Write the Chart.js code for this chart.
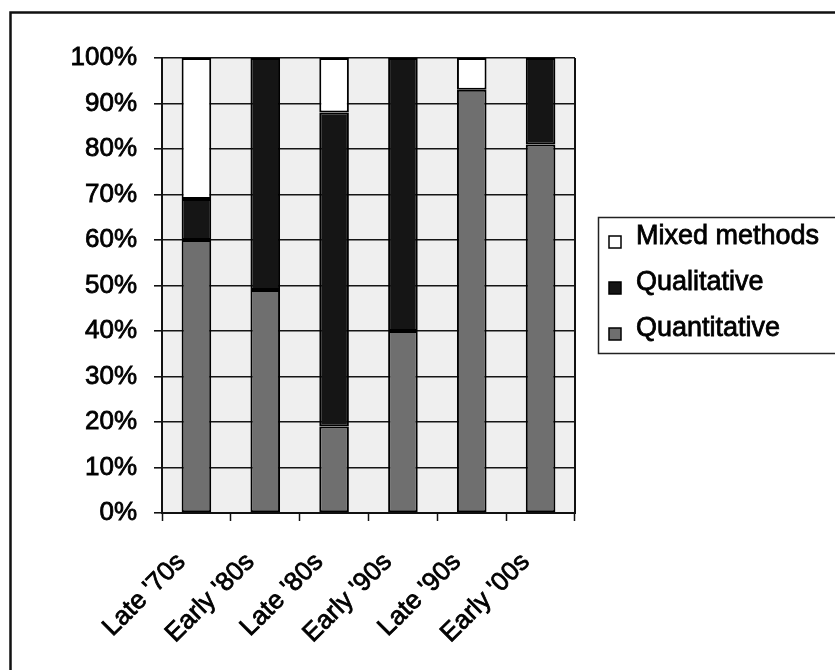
<!DOCTYPE html>
<html>
<head>
<meta charset="utf-8">
<style>
  html, body { margin: 0; padding: 0; background: #ffffff; }
  #wrap { width: 835px; height: 670px; }
</style>
<script src="https://cdn.jsdelivr.net/npm/chart.js@4/dist/chart.umd.min.js"></script>
</head>
<body>
<div id="wrap"><canvas id="c" width="835" height="670"></canvas></div>
<script>
// Share of studies by research approach, per period
const categories = ["Late '70s", "Early '80s", "Late '80s", "Early '90s", "Late '90s", "Early '00s"];
const quantitative = [60, 49, 19, 40, 93, 81];
const qualitative  = [9, 51, 69, 60, 0, 19];
const mixedMethods = [31, 0, 12, 0, 7, 0];
const yTickValues  = [0, 10, 20, 30, 40, 50, 60, 70, 80, 90, 100];

const FONT = "'Liberation Sans', Arial, sans-serif";
const COL_QUANT = '#6f6f6f';
const COL_QUAL = '#151515';
const COL_MIXED = '#ffffff';

// Plot background, plot frame, slanted category labels, page border and the boxed legend
const decorations = {
  id: 'decorations',
  beforeDraw(chart) {
    const { ctx, chartArea: a } = chart;
    ctx.save();
    ctx.fillStyle = '#efefef';
    ctx.fillRect(a.left, a.top, a.right - a.left, a.bottom - a.top);
    ctx.restore();
  },
  afterDraw(chart) {
    const { ctx, chartArea: a } = chart;
    ctx.save();
    // right edge of the plot
    ctx.strokeStyle = '#111';
    ctx.lineWidth = 2;
    ctx.beginPath();
    ctx.moveTo(a.right, a.top);
    ctx.lineTo(a.right, a.bottom);
    ctx.stroke();

    // category labels at 45 degrees, ending just left of each bar
    const xs = chart.scales.x;
    ctx.font = '26px ' + FONT;
    ctx.fillStyle = '#000';
    ctx.strokeStyle = '#000';
    chart.data.labels.forEach((lab, i) => {
      ctx.save();
      ctx.translate(xs.getPixelForTick(i) - 15, xs.top + 45);
      ctx.rotate(-Math.PI / 4);
      ctx.textAlign = 'right';
      ctx.textBaseline = 'middle';
      ctx.lineWidth = 0.8;
      ctx.strokeText(lab, 0, 0);
      ctx.fillText(lab, 0, 0);
      ctx.restore();
    });

    // outer border of the figure
    ctx.strokeStyle = '#111';
    ctx.lineWidth = 2.5;
    ctx.beginPath();
    ctx.moveTo(10.5, 670);
    ctx.lineTo(10.5, 12.5);
    ctx.lineTo(835, 12.5);
    ctx.stroke();

    // legend box
    const lx = 598.5, ly = 217.5, lh = 136;
    ctx.lineWidth = 1.5;
    ctx.strokeStyle = '#222';
    ctx.beginPath();
    ctx.moveTo(840, ly);
    ctx.lineTo(lx, ly);
    ctx.lineTo(lx, ly + lh);
    ctx.lineTo(840, ly + lh);
    ctx.stroke();

    const items = chart.data.datasets.slice().reverse();
    const rowY = [237, 283, 329];
    ctx.font = '27px ' + FONT;
    ctx.textBaseline = 'middle';
    ctx.textAlign = 'left';
    items.forEach((ds, i) => {
      const y = rowY[i];
      ctx.fillStyle = ds.backgroundColor;
      ctx.fillRect(609, y - 1, 12, 12);
      ctx.strokeStyle = '#000';
      ctx.lineWidth = 1.5;
      ctx.strokeRect(609, y - 1, 12, 12);
      ctx.fillStyle = '#000';
      ctx.lineWidth = 0.8;
      ctx.strokeText(ds.label, 636, y);
      ctx.fillText(ds.label, 636, y);
    });
    ctx.restore();
  }
};

const barStyle = {
  borderColor: '#000',
  borderWidth: 2,
  borderSkipped: false,
  categoryPercentage: 1.0,
  barPercentage: 0.43
};

new Chart(document.getElementById('c'), {
  type: 'bar',
  data: {
    labels: categories,
    datasets: [
      Object.assign({ label: 'Quantitative', data: quantitative, backgroundColor: COL_QUANT }, barStyle),
      Object.assign({ label: 'Qualitative', data: qualitative, backgroundColor: COL_QUAL }, barStyle),
      Object.assign({ label: 'Mixed methods', data: mixedMethods, backgroundColor: COL_MIXED }, barStyle)
    ]
  },
  options: {
    responsive: false,
    animation: false,
    layout: { padding: { top: 58, right: 260, bottom: 0, left: 0 } },
    plugins: {
      legend: { display: false },
      tooltip: { enabled: false }
    },
    scales: {
      x: {
        stacked: true,
        offset: true,
        grid: {
          offset: true,
          drawOnChartArea: false,
          drawTicks: true,
          tickLength: 8,
          tickWidth: 1.5,
          tickColor: '#111'
        },
        border: { display: true, color: '#111', width: 2 },
        ticks: { display: false, autoSkip: false },
        afterFit(scale) { scale.height = 157; }
      },
      y: {
        stacked: true,
        min: 0,
        max: 100,
        afterBuildTicks(scale) { scale.ticks = yTickValues.map(v => ({ value: v })); },
        grid: {
          color: '#151515',
          lineWidth: 1.6,
          drawTicks: true,
          tickLength: 8,
          tickColor: '#111'
        },
        border: { display: true, color: '#111', width: 2 },
        ticks: {
          padding: 17,
          color: '#000',
          textStrokeColor: '#000',
          textStrokeWidth: 0.8,
          font: { family: FONT, size: 26 },
          callback: v => v + '%'
        },
        afterFit(scale) { scale.width = 162; }
      }
    }
  },
  plugins: [decorations]
});
</script>
</body>
</html>
